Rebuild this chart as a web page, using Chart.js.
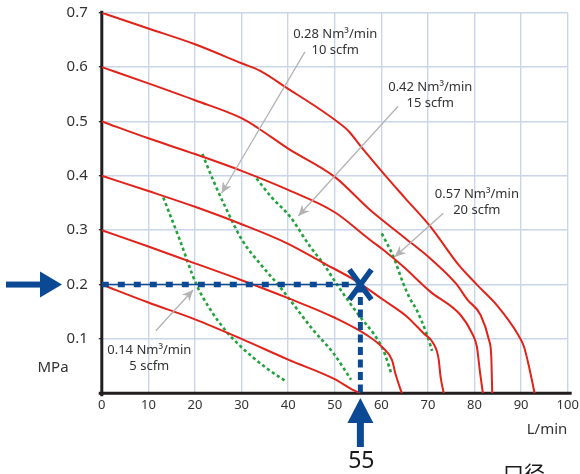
<!DOCTYPE html>
<html>
<head>
<meta charset="utf-8">
<script src="https://cdn.jsdelivr.net/npm/chart.js@4.4.0/dist/chart.umd.min.js"></script>
<style>
html,body{margin:0;padding:0;background:#ffffff;}
#wrap{width:580px;height:474px;position:relative;}
</style>
</head>
<body>
<div id="wrap"><canvas id="c"></canvas></div>
<script>
// ---- axis ticks ----
const flowTicks = [0,10,20,30,40,50,60,70,80,90,100];
const pressureTicks = [0,0.1,0.2,0.3,0.4,0.5,0.6,0.7];

// ---- supply-pressure curves (red): flow L/min vs outlet pressure MPa ----
const flow07 = [0,10,20,30,34,40,46,50,53,55.5,60.4,65,70.5,76.5,80.6,85,89.2,90.6,91.7,92.9];
const pres07 = [0.70,0.671,0.642,0.607,0.593,0.56,0.527,0.503,0.482,0.455,0.405,0.36,0.307,0.237,0.199,0.16,0.11,0.086,0.049,0];
const flow06 = [0,10,20,30,33.5,40,50,57.6,64.7,70.5,76,78.5,81.3,83.1,83.6,83.8];
const pres06 = [0.60,0.57,0.539,0.506,0.488,0.45,0.398,0.337,0.288,0.248,0.202,0.172,0.144,0.098,0.067,0];
const flow05 = [0,10,20,30,40,50,57.6,60.4,64.7,70.5,77,79.5,80.5,81.2,81.8];
const pres05 = [0.50,0.469,0.44,0.409,0.374,0.333,0.282,0.264,0.233,0.187,0.144,0.11,0.086,0.037,0];
const flow04 = [0,10,20,30,40,47.5,54.7,60.4,65.5,69.1,71,72.3,72.7,73.4];
const pres04 = [0.40,0.372,0.343,0.311,0.275,0.24,0.206,0.172,0.141,0.11,0.094,0.063,0.031,0];
const flow03 = [0,10,20,30,40,50,56.9,60.4,62.3,63,64.4];
const pres03 = [0.30,0.27,0.239,0.208,0.175,0.139,0.107,0.083,0.061,0.037,0];
const flow02 = [0,10,20,30,40,50,53.3,55.4];
const pres02 = [0.20,0.167,0.136,0.10,0.062,0.026,0.009,0];

// ---- nozzle consumption curves (green dotted) ----
const g5Flow  = [13.2,16.7,20.3,23,26.8,30.2,35.4,39.7];
const g5Pres  = [0.36,0.283,0.20,0.158,0.113,0.083,0.046,0.021];
const g10Flow = [21.6,24,26.5,30.1,34,38.2,40.2,45.4,49.7,53.5];
const g10Pres = [0.44,0.39,0.343,0.282,0.238,0.196,0.174,0.116,0.074,0.025];
const g15Flow = [33.2,36.5,40.4,44.7,47.5,50.8,55.4,58.3,60.4,62.2];
const g15Pres = [0.395,0.36,0.325,0.27,0.239,0.196,0.141,0.11,0.08,0.035];
const g20Flow = [60.1,62.6,64.7,66.1,67.6,69.7,70.9];
const g20Pres = [0.294,0.251,0.202,0.175,0.153,0.11,0.078];

// ---- reading guide ----
const guideFlow = [0,55.5];
const guidePressure = [0.2,0];
const guideLabel = '55';

// ---- annotation texts ----
const noteLines = [
  ['0.28 Nm³/min','10 scfm'],
  ['0.42 Nm³/min','15 scfm'],
  ['0.57 Nm³/min','20 scfm'],
  ['0.14 Nm³/min','5 scfm']
];
// anchor positions in data units: text centre x, line y's, arrow tail, arrow tip
const noteTextX = [50.1,70.5,80.5,10.2];
const noteTextY = [[0.661,0.631],[0.563,0.534],[0.366,0.337],[0.0796,0.050]];
const noteTail = [[43.6,0.628],[63.6,0.528],[73.3,0.331],[11.6,0.115]];
const noteTip  = [[25.7,0.368],[42.2,0.326],[62.9,0.251],[19.6,0.19]];

const blue = '#0c4995';
const red = '#e2231a';
const green = '#23a23d';
const gridBlue = '#cad5ea';
const axisBlack = '#231f20';
const textCol = '#333333';

const zip = (xs, ys) => xs.map((v,i) => ({x:v, y:ys[i]}));

const redSets = [[flow07,pres07],[flow06,pres06],[flow05,pres05],[flow04,pres04],[flow03,pres03],[flow02,pres02]];
const greenSets = [[g5Flow,g5Pres],[g10Flow,g10Pres],[g15Flow,g15Pres],[g20Flow,g20Pres]];

const datasets = [];
datasets.push({data: zip([guideFlow[0],guideFlow[1]],[guidePressure[0],guidePressure[0]]), borderColor: blue, borderWidth: 1.6, pointRadius: 0, order: 0});
datasets.push({data: zip([guideFlow[0],guideFlow[1]],[guidePressure[0],guidePressure[0]]), borderColor: blue, borderWidth: 5.5, borderDash:[7,9], borderCapStyle:'butt', pointRadius: 0, order: 0});
datasets.push({data: zip([guideFlow[1],guideFlow[1]],[guidePressure[0],guidePressure[1]]), borderColor: blue, borderWidth: 5, borderDash:[8,4.5], borderCapStyle:'butt', pointRadius: 0, order: 0});
redSets.forEach(([xs,ys]) => datasets.push({data: zip(xs,ys), borderColor: red, borderWidth: 2, pointRadius: 0, cubicInterpolationMode:'monotone', order: 1}));
greenSets.forEach(([xs,ys]) => datasets.push({data: zip(xs,ys), borderColor: green, borderWidth: 2.6, borderDash:[3.2,2.8], borderCapStyle:'butt', pointRadius: 0, cubicInterpolationMode:'monotone', order: 2}));

function arrowHead(ctx, fx, fy, tx, ty, len, half){
  const a = Math.atan2(ty-fy, tx-fx);
  ctx.beginPath();
  ctx.moveTo(tx, ty);
  ctx.lineTo(tx - len*Math.cos(a) + half*Math.sin(a), ty - len*Math.sin(a) - half*Math.cos(a));
  ctx.lineTo(tx - len*Math.cos(a)*0.7, ty - len*Math.sin(a)*0.7);
  ctx.lineTo(tx - len*Math.cos(a) - half*Math.sin(a), ty - len*Math.sin(a) + half*Math.cos(a));
  ctx.closePath();
  ctx.fill();
}

const decor = {
  id: 'decor',
  beforeDatasetsDraw(chart){
    const {ctx, scales:{x, y}} = chart;
    ctx.save();
    ctx.strokeStyle = axisBlack;
    ctx.lineWidth = 3;
    ctx.beginPath();
    ctx.moveTo(x.left - 3, y.bottom); ctx.lineTo(x.right + 4, y.bottom);
    ctx.moveTo(x.left, y.top - 2); ctx.lineTo(x.left, y.bottom + 3);
    ctx.stroke();
    ctx.restore();
  },
  afterDatasetsDraw(chart){
    const {ctx, scales:{x, y}} = chart;
    ctx.save();
    const cx = x.getPixelForValue(guideFlow[1]);
    const cy = y.getPixelForValue(guidePressure[0]);
    ctx.strokeStyle = blue;
    ctx.lineWidth = 5.5;
    ctx.lineCap = 'butt';
    ctx.beginPath();
    ctx.moveTo(cx - 11, cy - 15); ctx.lineTo(cx + 11, cy + 15);
    ctx.moveTo(cx + 11, cy - 15); ctx.lineTo(cx - 11, cy + 15);
    ctx.stroke();
    ctx.strokeStyle = '#b3b3b3';
    ctx.fillStyle = '#b3b3b3';
    ctx.lineWidth = 1.3;
    noteTail.forEach((t,i) => {
      const fx = x.getPixelForValue(t[0]), fy = y.getPixelForValue(t[1]);
      const tx = x.getPixelForValue(noteTip[i][0]), ty = y.getPixelForValue(noteTip[i][1]);
      ctx.beginPath(); ctx.moveTo(fx, fy); ctx.lineTo(tx, ty); ctx.stroke();
      arrowHead(ctx, fx, fy, tx, ty, 11, 5);
    });
    ctx.fillStyle = textCol;
    ctx.font = '13px "Noto Sans"';
    ctx.textAlign = 'center';
    ctx.textBaseline = 'middle';
    noteLines.forEach((lines,i) => {
      lines.forEach((s,j) => ctx.fillText(s, x.getPixelForValue(noteTextX[i]), y.getPixelForValue(noteTextY[i][j])));
    });
    ctx.restore();
  },
  afterDraw(chart){
    const {ctx, scales:{x, y}} = chart;
    ctx.save();
    ctx.fillStyle = blue;
    const ay = y.getPixelForValue(guidePressure[0]);
    ctx.fillRect(6, ay - 3, 36, 6);
    ctx.beginPath();
    ctx.moveTo(40, ay - 13); ctx.lineTo(62, ay); ctx.lineTo(40, ay + 13); ctx.closePath(); ctx.fill();
    const ax = x.getPixelForValue(guideFlow[1]);
    ctx.fillRect(ax - 3.5, 421, 7, 26);
    ctx.beginPath();
    ctx.moveTo(ax, 398); ctx.lineTo(ax + 13, 423); ctx.lineTo(ax - 13, 423); ctx.closePath(); ctx.fill();
    ctx.fillStyle = '#1a1a1a';
    ctx.font = '23px "Noto Sans"';
    ctx.textAlign = 'center';
    ctx.textBaseline = 'middle';
    ctx.fillText(guideLabel, ax + 1, 461);
    ctx.fillStyle = textCol;
    ctx.font = '15px "Noto Sans"';
    ctx.fillText('MPa', 53, 368);
    ctx.fillText('L/min', 547, 430);
    ctx.fillStyle = '#1a1a1a';
    ctx.font = '21px "Noto Sans CJK SC"';
    ctx.textAlign = 'left';
    ctx.textBaseline = 'top';
    ctx.fillText('口径', 503, 463);
    ctx.restore();
  }
};

new Chart(document.getElementById('c'), {
  type: 'line',
  data: { datasets },
  options: {
    responsive: true,
    maintainAspectRatio: false,
    animation: false,
    events: [],
    layout: { padding: { top: 12.7, right: 12.3, left: 0, bottom: 0 } },
    plugins: { legend: { display: false }, tooltip: { enabled: false } },
    scales: {
      x: {
        type: 'linear',
        min: flowTicks[0], max: flowTicks[flowTicks.length-1],
        afterBuildTicks: s => { s.ticks = flowTicks.map(v => ({value: v})); },
        afterFit: s => { s.height = 80.7; s.paddingLeft = 0; s.paddingRight = 0; },
        grid: { color: gridBlue, lineWidth: 1.4, drawTicks: false },
        border: { display: false },
        ticks: { color: textCol, font: { family: 'Noto Sans', size: 13 }, padding: 4, maxRotation: 0, autoSkip: false, callback: v => String(v) }
      },
      y: {
        type: 'linear',
        min: pressureTicks[0], max: pressureTicks[pressureTicks.length-1],
        afterBuildTicks: s => { s.ticks = pressureTicks.map(v => ({value: v})); },
        afterFit: s => { s.width = 101.8; s.paddingTop = 0; s.paddingBottom = 0; },
        grid: { color: gridBlue, lineWidth: 1.4, drawTicks: true, tickLength: 3, tickColor: axisBlack, tickWidth: 1.2 },
        border: { display: false },
        ticks: { color: textCol, font: { family: 'Noto Sans', size: 15 }, padding: 11, autoSkip: false, callback: v => v === 0 ? '' : v.toFixed(1) }
      }
    }
  },
  plugins: [decor]
});
</script>
</body>
</html>
